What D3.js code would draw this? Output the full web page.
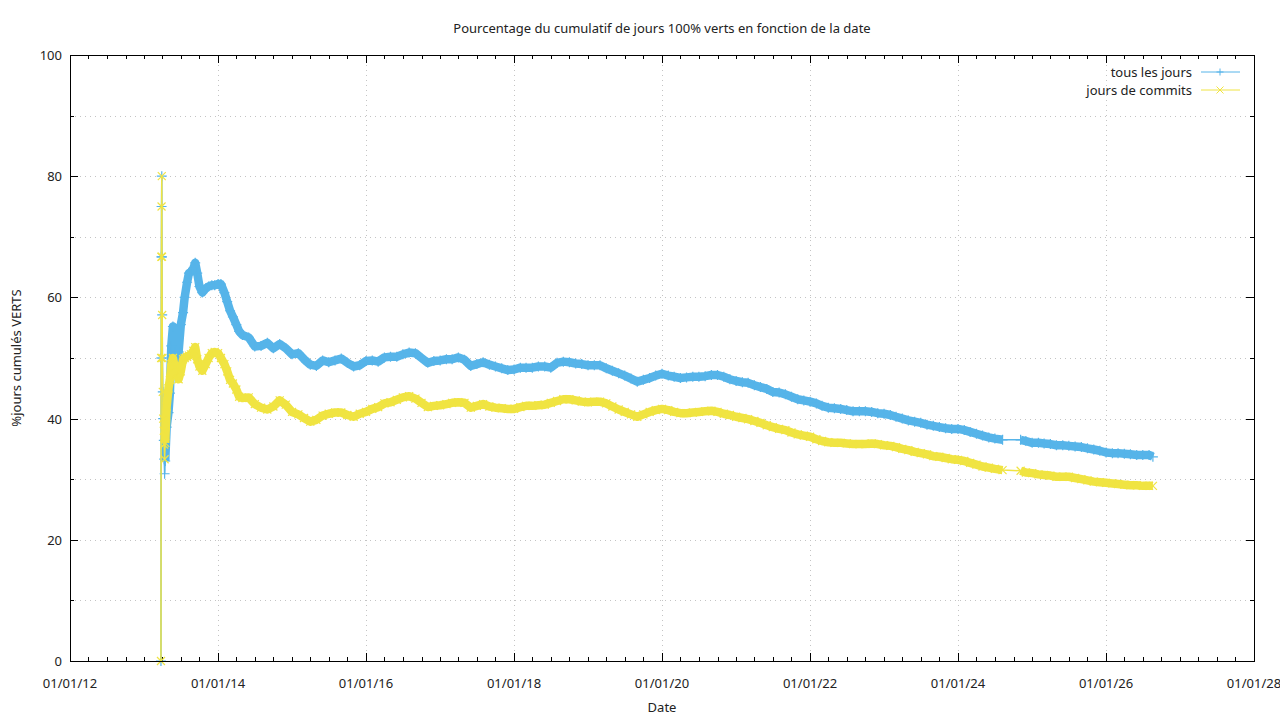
<!DOCTYPE html>
<html>
<head>
<meta charset="utf-8">
<script src="https://cdn.jsdelivr.net/npm/d3@7"></script>
<style>
  body { margin: 0; background: #fff; }
  svg text { font-family: "Noto Sans", "Open Sans", sans-serif; fill: #222; }
</style>
</head>
<body>
<svg id="chart" width="1280" height="720"></svg>
<script>
// dates of the samples (first ones are the start-up days, then ~monthly)
const dates = [
  "2013-03-25","2013-03-26","2013-03-27","2013-03-28","2013-03-29","2013-03-30","2013-03-31","2013-04-01","2013-04-03","2013-04-05","2013-04-08","2013-04-10","2013-04-12",
  "2013-04-15","2013-04-22","2013-05-01","2013-05-08","2013-05-15","2013-05-23","2013-06-01","2013-06-12","2013-06-20","2013-07-01","2013-07-12","2013-07-20","2013-08-01","2013-08-10","2013-08-20","2013-09-01","2013-09-10","2013-09-20","2013-10-01","2013-10-15","2013-11-01","2013-11-15","2013-12-01","2013-12-15",
  "2014-01-01","2014-01-15","2014-02-01","2014-02-15","2014-03-01","2014-03-15","2014-04-01","2014-04-15","2014-05-01","2014-06-01","2014-07-01","2014-08-01","2014-09-01","2014-10-01","2014-11-01","2014-12-01",
  "2015-01-01","2015-02-01","2015-03-01","2015-04-01","2015-05-01","2015-06-01","2015-07-01","2015-08-01","2015-09-01","2015-10-01","2015-11-01","2015-12-01",
  "2016-01-01","2016-02-01","2016-03-01","2016-04-01","2016-05-01","2016-06-01","2016-07-01","2016-08-01","2016-09-01","2016-10-01","2016-11-01","2016-12-01",
  "2017-01-01","2017-02-01","2017-03-01","2017-04-01","2017-05-01","2017-06-01","2017-07-01","2017-08-01","2017-09-01","2017-10-01","2017-11-01","2017-12-01",
  "2018-01-01","2018-02-01","2018-03-01","2018-04-01","2018-05-01","2018-06-01","2018-07-01","2018-08-01","2018-09-01","2018-10-01","2018-11-01","2018-12-01",
  "2019-01-01","2019-02-01","2019-03-01","2019-04-01","2019-05-01","2019-06-01","2019-07-01","2019-08-01","2019-09-01","2019-10-01","2019-11-01","2019-12-01",
  "2020-01-01","2020-02-01","2020-03-01","2020-04-01","2020-05-01","2020-06-01","2020-07-01","2020-08-01","2020-09-01","2020-10-01","2020-11-01","2020-12-01",
  "2021-01-01","2021-02-01","2021-03-01","2021-04-01","2021-05-01","2021-06-01","2021-07-01","2021-08-01","2021-09-01","2021-10-01","2021-11-01","2021-12-01",
  "2022-01-01","2022-02-01","2022-03-01","2022-04-01","2022-05-01","2022-06-01","2022-07-01","2022-08-01","2022-09-01","2022-10-01","2022-11-01","2022-12-01",
  "2023-01-01","2023-02-01","2023-03-01","2023-04-01","2023-05-01","2023-06-01","2023-07-01","2023-08-01","2023-09-01","2023-10-01","2023-11-01","2023-12-01",
  "2024-01-01","2024-02-01","2024-03-01","2024-04-01","2024-05-01","2024-06-01","2024-07-01","2024-08-08","2024-11-05","2024-12-01",
  "2025-01-01","2025-02-01","2025-03-01","2025-04-01","2025-05-01","2025-06-01","2025-07-01","2025-08-01","2025-09-01","2025-10-01","2025-11-01","2025-12-01",
  "2026-01-01","2026-02-01","2026-03-01","2026-04-01","2026-05-01","2026-06-01","2026-07-01","2026-08-01","2026-08-20"
];

// % cumulated green days, all days
const tousLesJours = [
  0, 50, 66.7, 75, 80, 66.7, 57.1, 50, 44.4, 40, 36.4, 33.3, 30.9,
  33, 38.6, 41, 44.2, 52, 55.2, 51, 49.7, 51, 55.5, 57.5, 60, 62.5, 64, 64.2, 64.8, 65.7, 64, 61.8, 60.8, 61.5, 61.8, 62, 62,
  62.2, 62.2, 60.8, 59.3, 57.8, 56.8, 55.5, 54.4, 53.8, 53.4, 51.9, 52, 52.5, 51.6, 52.3, 51.6,
  50.6, 50.8, 49.8, 48.9, 48.7, 49.6, 49.3, 49.6, 49.9, 49.2, 48.6, 48.8,
  49.5, 49.6, 49.4, 50.1, 50.2, 50.2, 50.6, 50.9, 50.8, 50, 49.2, 49.5,
  49.6, 49.8, 49.8, 50.1, 49.7, 48.7, 49, 49.3, 48.9, 48.6, 48.3, 48,
  48.1, 48.4, 48.4, 48.4, 48.6, 48.6, 48.4, 49.2, 49.4, 49.3, 49.1, 49,
  48.8, 48.8, 48.8, 48.3, 47.9, 47.5, 47.1, 46.6, 46.1, 46.4, 46.7, 47.1,
  47.4, 47.1, 46.9, 46.7, 46.8, 46.9, 46.9, 47, 47.2, 47.2, 46.9, 46.5,
  46.2, 46, 45.9, 45.5, 45.2, 44.9, 44.4, 44.3, 44, 43.6, 43.2, 43,
  42.8, 42.5, 42.1, 41.8, 41.7, 41.6, 41.4, 41.2, 41.2, 41.2, 41.1, 40.9,
  40.8, 40.6, 40.3, 40, 39.7, 39.5, 39.3, 39, 38.8, 38.6, 38.4, 38.3,
  38.3, 38.1, 37.8, 37.5, 37.2, 36.9, 36.7, 36.5, 36.5, 36.3,
  36, 36, 35.9, 35.8, 35.6, 35.6, 35.5, 35.4, 35.3, 35.1, 34.9, 34.7,
  34.4, 34.3, 34.3, 34.2, 34.1, 34, 34, 34, 33.7
];

// % cumulated green days, commit days only
const joursDeCommits = [
  0, 50, 66.7, 75, 80, 66.7, 57.1, 50, 44.4, 40, 38, 35.7, 33.3,
  36, 42, 45, 46.4, 49, 50, 48.5, 47.5, 46.5, 47.8, 49.8, 50, 50.2, 50.4, 50.6, 51.2, 51.8, 49.8, 48.6, 47.9, 49, 50, 50.8, 51,
  50.8, 50, 49, 47.8, 46.4, 45.8, 44.8, 43.6, 43.4, 43.5, 42.4, 41.8, 41.5, 42, 43, 42.3,
  41.1, 40.7, 40.1, 39.5, 39.8, 40.5, 40.8, 41, 41, 40.6, 40.3, 40.8,
  41.1, 41.6, 41.9, 42.5, 42.7, 43.1, 43.5, 43.7, 43.3, 42.6, 41.9, 42.1,
  42.2, 42.4, 42.6, 42.7, 42.6, 41.8, 42.1, 42.4, 42, 41.8, 41.7, 41.6,
  41.6, 41.9, 42.1, 42.1, 42.2, 42.3, 42.6, 42.9, 43.2, 43.2, 43, 42.8,
  42.7, 42.8, 42.8, 42.5, 42, 41.5, 41.1, 40.7, 40.3, 40.7, 41.1, 41.4,
  41.6, 41.4, 41.1, 40.9, 40.9, 41, 41.1, 41.2, 41.3, 41.1, 40.8, 40.6,
  40.3, 40.1, 39.9, 39.6, 39.3, 38.9, 38.6, 38.3, 38.1, 37.7, 37.4, 37.2,
  37, 36.6, 36.3, 36.1, 36, 36, 35.9, 35.8, 35.8, 35.8, 35.9, 35.8,
  35.6, 35.5, 35.3, 35, 34.8, 34.5, 34.3, 34.1, 33.8, 33.7, 33.5, 33.3,
  33.2, 33, 32.7, 32.4, 32.1, 31.9, 31.7, 31.5, 31.4, 31.1,
  31, 30.8, 30.7, 30.6, 30.4, 30.4, 30.4, 30.2, 30, 29.8, 29.6, 29.5,
  29.4, 29.3, 29.2, 29.1, 29, 29, 28.9, 28.9, 28.9
];

const START_DAYS = 13; // first days: tiny counts, drawn as thin line only
const yTicks = [0, 20, 40, 60, 80, 100];

const series = [
  { name: "tous les jours", values: tousLesJours, color: "#56b4e9", mark: "plus" },
  { name: "jours de commits", values: joursDeCommits, color: "#f0e442", mark: "cross" }
];

const m = { left: 70, right: 1254, top: 55, bottom: 661 };
const parse = d3.utcParse("%Y-%m-%d");
const when = dates.map(parse);

const x = d3.scaleUtc().domain([parse("2012-01-01"), parse("2028-01-01")]).range([m.left, m.right]);
const y = d3.scaleLinear().domain([0, 100]).range([m.bottom, m.top]);

const svg = d3.select("#chart");

// grid
const grid = svg.append("g").attr("stroke", "#c4c4c4").attr("stroke-dasharray", "1,4").attr("stroke-width", 1);
grid.selectAll(".gy").data(d3.range(10, 100, 10)).join("line")
  .attr("x1", m.left).attr("x2", m.right).attr("y1", d => Math.round(y(d)) + 0.5).attr("y2", d => Math.round(y(d)) + 0.5);
const majorX = d3.utcYear.every(2).range(parse("2012-01-01"), parse("2028-01-02"));
grid.selectAll(".gx").data(majorX.slice(1, -1)).join("line")
  .attr("x1", d => Math.round(x(d)) + 0.5).attr("x2", d => Math.round(x(d)) + 0.5).attr("y1", m.top).attr("y2", m.bottom);

// axes (ticks inward, mirrored)
const fmt = d3.utcFormat("%d/%m/%y");
const minorX = d3.utcMonth.every(3).range(parse("2012-01-01"), parse("2028-01-02"));
const ax = svg.append("g").attr("stroke", "#000").attr("stroke-width", 1);
minorX.forEach(d => {
  const major = d.getUTCMonth() === 0 && d.getUTCFullYear() % 2 === 0;
  const len = major ? 8 : 4;
  const px = Math.round(x(d)) + 0.5;
  ax.append("line").attr("x1", px).attr("x2", px).attr("y1", m.bottom).attr("y2", m.bottom - len);
  ax.append("line").attr("x1", px).attr("x2", px).attr("y1", m.top).attr("y2", m.top + len);
});
d3.range(0, 101, 10).forEach(v => {
  const len = v % 20 === 0 ? 8 : 4;
  const py = Math.round(y(v)) + 0.5;
  ax.append("line").attr("x1", m.left).attr("x2", m.left + len).attr("y1", py).attr("y2", py);
  ax.append("line").attr("x1", m.right).attr("x2", m.right - len).attr("y1", py).attr("y2", py);
});

svg.append("g").selectAll("text").data(majorX).join("text")
  .attr("x", d => x(d)).attr("y", 688).attr("text-anchor", "middle")
  .attr("font-size", 13).text(fmt);
svg.append("g").selectAll("text").data(yTicks).join("text")
  .attr("x", 62).attr("y", d => y(d) + 5).attr("text-anchor", "end")
  .attr("font-size", 13).text(d => d);

// series
const band = d3.line().x(d => x(d.t)).y(d => y(d.v)).defined(d => !d.gap);
const thin = d3.line().x(d => x(d.t)).y(d => y(d.v));
const markPath = (kind, s) => kind === "plus"
  ? `M${-s},0H${s}M0,${-s}V${s}`
  : `M${-s},${-s}L${s},${s}M${-s},${s}L${s},${-s}`;

const plot = svg.append("g");
series.forEach(se => {
  const pts = when.map((t, i) => ({ t, v: se.values[i] }));
  // thick band for the dense daily markers, broken where data is missing
  const bandPts = [];
  pts.slice(START_DAYS).forEach((p, k, arr) => {
    if (k > 0 && (p.t - arr[k - 1].t) > 60 * 864e5) bandPts.push({ gap: true });
    bandPts.push(p);
  });
  plot.append("path").attr("d", thin(pts)).attr("fill", "none")
    .attr("stroke", se.color).attr("stroke-width", 1.5);
  plot.append("path").attr("d", band(bandPts)).attr("fill", "none")
    .attr("stroke", se.color).attr("stroke-width", 8.5)
    .attr("stroke-linejoin", "round").attr("stroke-linecap", "butt");
  plot.append("g").selectAll("path").data(pts).join("path")
    .attr("transform", d => `translate(${x(d.t)},${y(d.v)})`)
    .attr("d", markPath(se.mark, se.mark === "plus" ? 5 : 4))
    .attr("stroke", se.color).attr("stroke-width", 1.2).attr("fill", "none");
});

// border
svg.append("rect").attr("x", m.left + 0.5).attr("y", m.top + 0.5)
  .attr("width", m.right - m.left).attr("height", m.bottom - m.top)
  .attr("fill", "none").attr("stroke", "#000").attr("stroke-width", 1);

// legend
const lg = svg.append("g");
series.forEach((se, i) => {
  const ly = 72 + i * 18;
  lg.append("text").attr("x", 1192).attr("y", ly + 4.5).attr("text-anchor", "end")
    .attr("font-size", 13).text(se.name);
  lg.append("line").attr("x1", 1201).attr("x2", 1240).attr("y1", ly).attr("y2", ly)
    .attr("stroke", se.color).attr("stroke-width", 1);
  lg.append("path").attr("transform", `translate(1220,${ly})`)
    .attr("d", markPath(se.mark, 3.5)).attr("stroke", se.color).attr("stroke-width", 1).attr("fill", "none");
});

// titles
svg.append("text").attr("x", 662).attr("y", 33).attr("text-anchor", "middle")
  .attr("font-size", 13).text("Pourcentage du cumulatif de jours 100% verts en fonction de la date");
svg.append("text").attr("x", 662).attr("y", 712).attr("text-anchor", "middle")
  .attr("font-size", 13).text("Date");
svg.append("text").attr("transform", "translate(21,358) rotate(-90)").attr("text-anchor", "middle")
  .attr("font-size", 13).text("%jours cumulés VERTS");
</script>
</body>
</html>
